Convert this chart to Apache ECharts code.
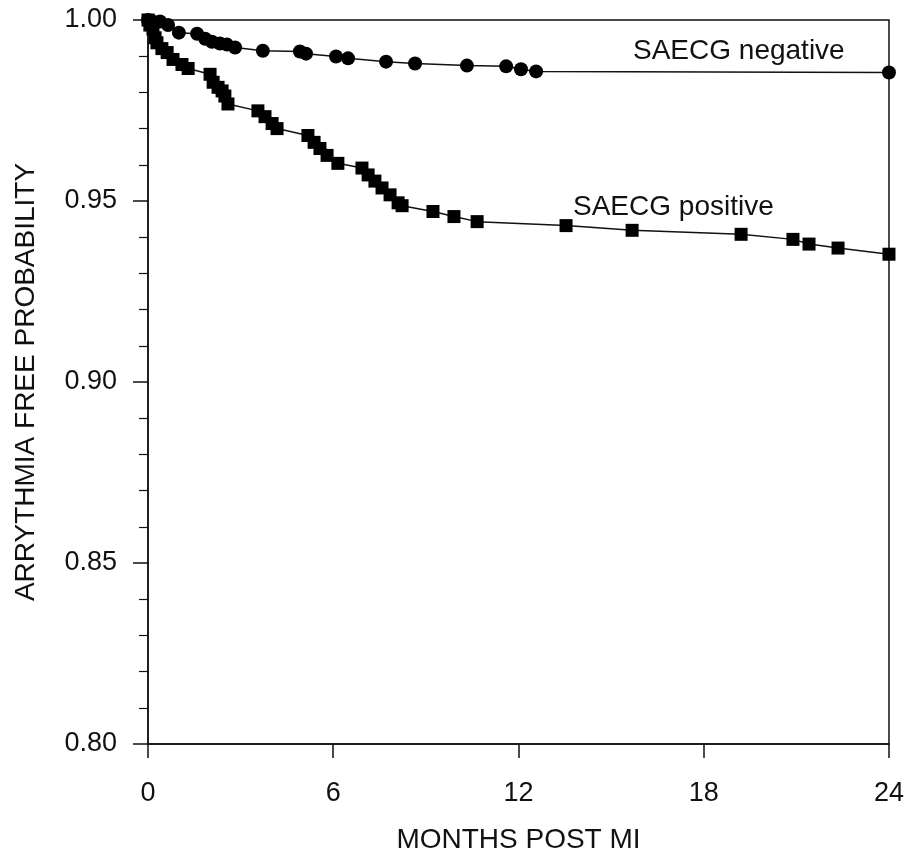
<!DOCTYPE html>
<html>
<head>
<meta charset="utf-8">
<script src="https://cdn.jsdelivr.net/npm/echarts@6/dist/echarts.min.js"></script>
<style>
  html, body { margin: 0; padding: 0; background: #fff; }
  #chart { width: 907px; height: 859px; }
</style>
</head>
<body>
<div id="chart"></div>
<script>
// months post MI and survival estimate
const negMonths = [0, 0.13, 0.39, 0.65, 1.0, 1.59, 1.85, 2.07, 2.33, 2.56, 2.82, 3.72, 4.92, 5.12, 6.09, 6.48, 7.71, 8.65, 10.33, 11.6, 12.08, 12.57, 24];
const negProb = [1.0, 0.9997, 0.9996, 0.9986, 0.9965, 0.9962, 0.9948, 0.994, 0.9935, 0.9932, 0.9924, 0.9915, 0.9913, 0.9907, 0.9899, 0.9894, 0.9885, 0.988, 0.9874, 0.9872, 0.9864, 0.9858, 0.9855];

const posMonths = [0, 0.06, 0.16, 0.23, 0.29, 0.45, 0.62, 0.81, 1.10, 1.30, 2.01, 2.11, 2.27, 2.40, 2.49, 2.59, 3.56, 3.79, 4.02, 4.18, 5.18, 5.38, 5.57, 5.80, 6.15, 6.93, 7.13, 7.35, 7.58, 7.84, 8.10, 8.23, 9.23, 9.91, 10.66, 13.54, 15.68, 19.21, 20.89, 21.41, 22.35, 24];
const posProb = [1.0, 0.9986, 0.9975, 0.9951, 0.9937, 0.9921, 0.991, 0.9891, 0.9877, 0.9866, 0.985, 0.9828, 0.9814, 0.9804, 0.979, 0.9768, 0.9749, 0.9733, 0.9714, 0.97, 0.9681, 0.9662, 0.9645, 0.9626, 0.9604, 0.9591, 0.9572, 0.9555, 0.9536, 0.9517, 0.9495, 0.9487, 0.9471, 0.9457, 0.9443, 0.9432, 0.9419, 0.9408, 0.9394, 0.9381, 0.937, 0.9353];

const xTicks = [0, 6, 12, 18, 24];
const yTicks = [0.80, 0.85, 0.90, 0.95, 1.00];

const font = '"Liberation Sans", Arial, sans-serif';

function pairs(xs, ys) {
  return xs.map((x, i) => [x, ys[i]]);
}

const chart = echarts.init(document.getElementById('chart'), null, { renderer: 'canvas' });

chart.setOption({
  animation: false,
  backgroundColor: '#fff',
  grid: {
    left: 148, right: 18, top: 20, bottom: 106,
    show: true, borderColor: '#111', borderWidth: 1.5
  },
  xAxis: {
    type: 'value',
    min: xTicks[0], max: xTicks[xTicks.length - 1], interval: 6,
    name: 'MONTHS POST MI',
    nameLocation: 'middle',
    nameGap: 82,
    nameTextStyle: { fontFamily: font, fontSize: 28, color: '#111' },
    axisLine: { lineStyle: { color: '#111', width: 1.5 } },
    axisTick: { length: 14, lineStyle: { color: '#111', width: 1.5 } },
    axisLabel: { margin: 36, fontFamily: font, fontSize: 27, color: '#111' },
    splitLine: { show: false }
  },
  yAxis: {
    type: 'value',
    min: yTicks[0], max: yTicks[yTicks.length - 1], interval: 0.05,
    name: 'ARRYTHMIA FREE PROBABILITY',
    nameLocation: 'middle',
    nameGap: 108,
    nameTextStyle: { fontFamily: font, fontSize: 28, color: '#111' },
    axisLine: { lineStyle: { color: '#111', width: 1.5 } },
    axisTick: { length: 15, lineStyle: { color: '#111', width: 1.5 } },
    minorTick: { show: true, splitNumber: 5, length: 9, lineStyle: { color: '#111', width: 1.2 } },
    axisLabel: {
      margin: 31, fontFamily: font, fontSize: 27, color: '#111',
      formatter: v => v.toFixed(2)
    },
    splitLine: { show: false },
    minorSplitLine: { show: false }
  },
  series: [
    {
      name: 'SAECG positive',
      type: 'line',
      data: pairs(posMonths, posProb),
      symbol: 'rect',
      symbolSize: 13,
      clip: false,
      lineStyle: { color: '#111', width: 1.5 },
      itemStyle: { color: '#000' }
    },
    {
      name: 'SAECG negative',
      type: 'line',
      data: pairs(negMonths, negProb),
      symbol: 'circle',
      symbolSize: 14,
      clip: false,
      lineStyle: { color: '#111', width: 1.5 },
      itemStyle: { color: '#000' }
    }
  ],
  graphic: [
    {
      type: 'text', left: 633, top: 37,
      style: { text: 'SAECG negative', font: '28px ' + font, fill: '#111' }
    },
    {
      type: 'text', left: 573, top: 193,
      style: { text: 'SAECG positive', font: '28px ' + font, fill: '#111' }
    }
  ]
});
</script>
</body>
</html>
